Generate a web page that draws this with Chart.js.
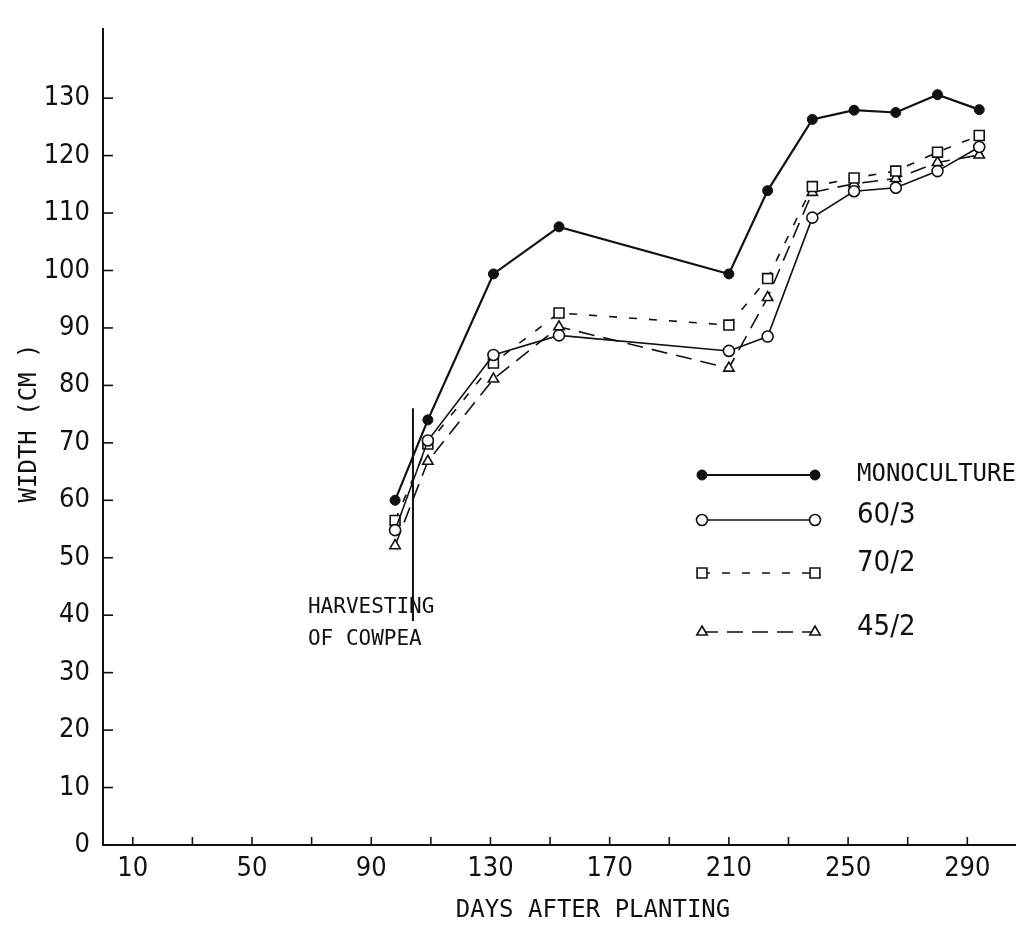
<!DOCTYPE html>
<html>
<head>
<meta charset="utf-8">
<script src="https://cdn.jsdelivr.net/npm/chart.js@4.4.1/dist/chart.umd.min.js"></script>
<style>
  html, body { margin: 0; padding: 0; background: #fff; }
  #wrap { width: 1027px; height: 928px; }
</style>
</head>
<body>
<div id="wrap"><canvas id="c" width="1027" height="928"></canvas></div>
<script>
// ---- data ----
const days = [98, 109, 131, 153, 210, 223, 238, 252, 266, 280, 294];
const monoculture = [60.0, 74.0, 99.4, 107.6, 99.4, 113.9, 126.3, 127.9, 127.5, 130.6, 128.0];
const s60_3 = [54.8, 70.4, 85.3, 88.7, 86.0, 88.5, 109.2, 113.8, 114.4, 117.3, 121.5];
const s70_2 = [56.5, 69.8, 83.9, 92.6, 90.5, 98.6, 114.6, 116.1, 117.3, 120.6, 123.5];
const s45_2 = [52.1, 66.8, 81.1, 90.2, 83.0, 95.3, 113.6, 115.1, 116.0, 118.8, 120.1];
const harvestDay = [104, 104];
const harvestMark = [39, 76];
const seriesNames = ['MONOCULTURE', '60/3', '70/2', '45/2'];
const xTicks = [10, 30, 50, 70, 90, 110, 130, 150, 170, 190, 210, 230, 250, 270, 290];
const xTickLabels = [10, 50, 90, 130, 170, 210, 250, 290];
const yTicks = [0, 10, 20, 30, 40, 50, 60, 70, 80, 90, 100, 110, 120, 130];
const annotationLines = ['HARVESTING', 'OF COWPEA'];
const xTitle = 'DAYS AFTER PLANTING';
const yTitle = 'WIDTH (CM )';

const INK = '#111';
const MONO = "'DejaVu Sans Mono', 'Liberation Mono', monospace";
const NARROW = "'Liberation Sans Narrow', 'DejaVu Sans Condensed', sans-serif";

const pts = arr => days.map((d, i) => ({x: d, y: arr[i]}));

const datasets = [
  { label: seriesNames[0], data: pts(monoculture), borderColor: INK, backgroundColor: INK,
    borderWidth: 2.2, pointStyle: 'circle', pointRadius: 5, pointBorderWidth: 1,
    pointBackgroundColor: INK, pointBorderColor: INK },
  { label: seriesNames[1], data: pts(s60_3), borderColor: INK, backgroundColor: '#fff',
    borderWidth: 1.6, pointStyle: 'circle', pointRadius: 5.5, pointBorderWidth: 1.6,
    pointBackgroundColor: '#fff', pointBorderColor: INK },
  { label: seriesNames[2], data: pts(s70_2), borderColor: INK, backgroundColor: '#fff',
    borderWidth: 1.6, borderDash: [8, 12], pointStyle: 'rect', pointRadius: 7, pointBorderWidth: 1.6,
    pointBackgroundColor: '#fff', pointBorderColor: INK },
  { label: seriesNames[3], data: pts(s45_2), borderColor: INK, backgroundColor: '#fff',
    borderWidth: 1.6, borderDash: [16, 9], pointStyle: 'triangle', pointRadius: 6, pointBorderWidth: 1.6,
    pointBackgroundColor: '#fff', pointBorderColor: INK },
  { label: 'harvest', data: harvestDay.map((d, i) => ({x: d, y: harvestMark[i]})),
    borderColor: INK, borderWidth: 2, pointRadius: 0 }
];

const decor = {
  id: 'decor',
  afterDraw(chart) {
    const ctx = chart.ctx;
    const xs = chart.scales.x, ys = chart.scales.y;
    const area = chart.chartArea;
    ctx.save();
    ctx.strokeStyle = INK;
    ctx.lineWidth = 1.6;
    // inward tick marks
    xs.ticks.forEach(t => {
      const px = xs.getPixelForValue(t.value);
      ctx.beginPath(); ctx.moveTo(px, area.bottom); ctx.lineTo(px, area.bottom - 8); ctx.stroke();
    });
    ys.ticks.forEach(t => {
      const py = ys.getPixelForValue(t.value);
      ctx.beginPath(); ctx.moveTo(area.left, py); ctx.lineTo(area.left + 10, py); ctx.stroke();
    });
    ctx.fillStyle = INK;
    // axis titles
    ctx.font = '24px ' + MONO;
    ctx.textAlign = 'center';
    ctx.textBaseline = 'middle';
    ctx.fillText(xTitle, 593, 911);
    ctx.save();
    ctx.translate(30, 423);
    ctx.rotate(-Math.PI / 2);
    ctx.fillText(yTitle, 0, 0);
    ctx.restore();

    // annotation text
    ctx.font = '21px ' + MONO;
    ctx.textAlign = 'left';
    const ax = xs.getPixelForValue(harvestDay[0]) - 105;
    ctx.fillText(annotationLines[0], ax, 608);
    ctx.fillText(annotationLines[1], ax, 640);

    // legend
    const rows = [475, 520, 573, 632];
    const textY = [475, 515, 563, 627];
    const x0 = 702, x1 = 815;
    chart.data.datasets.slice(0, 4).forEach((ds, i) => {
      const y = rows[i];
      ctx.save();
      ctx.lineWidth = ds.borderWidth;
      ctx.setLineDash(ds.borderDash || []);
      ctx.beginPath(); ctx.moveTo(x0, y); ctx.lineTo(x1, y); ctx.stroke();
      ctx.restore();
      [x0, x1].forEach(px => {
        ctx.save();
        ctx.fillStyle = ds.pointBackgroundColor;
        ctx.strokeStyle = ds.pointBorderColor;
        ctx.lineWidth = ds.pointBorderWidth;
        Chart.helpers.drawPoint(ctx, {pointStyle: ds.pointStyle, radius: ds.pointRadius, borderWidth: ds.pointBorderWidth, rotation: 0}, px, y);
        ctx.restore();
      });
      ctx.fillStyle = INK;
      ctx.textBaseline = 'middle';
      if (i === 0) { ctx.font = '24px ' + MONO; }
      else { ctx.font = '29px ' + NARROW; }
      ctx.fillText(ds.label, 857, textY[i]);
    });
    ctx.restore();
  }
};

new Chart(document.getElementById('c'), {
  type: 'line',
  data: { datasets },
  plugins: [decor],
  options: {
    responsive: false,
    animation: false,
    devicePixelRatio: 1,
    layout: { padding: { top: 7, right: 12, left: 0, bottom: 0 } },
    plugins: { legend: { display: false }, tooltip: { enabled: false } },
    scales: {
      x: {
        type: 'linear', min: 0, max: 306,
        afterBuildTicks: s => { s.ticks = xTicks.map(v => ({ value: v })); },
        afterFit: s => { s.height = 83; },
        ticks: {
          autoSkip: false, maxRotation: 0, padding: 8, color: INK,
          font: { family: NARROW, size: 27 },
          callback: v => xTickLabels.includes(v) ? String(v) : ''
        },
        grid: { display: true, drawOnChartArea: false, drawTicks: false },
        border: { display: true, color: INK, width: 2 },
        title: { display: false }
      },
      y: {
        type: 'linear', min: 0, max: 142,
        afterBuildTicks: s => { s.ticks = yTicks.map(v => ({ value: v })); },
        afterFit: s => { s.width = 103; },
        ticks: {
          autoSkip: false, padding: 13, color: INK,
          font: { family: NARROW, size: 27 }
        },
        grid: { display: true, drawOnChartArea: false, drawTicks: false },
        border: { display: true, color: INK, width: 2 },
        title: { display: false }
      }
    }
  }
});
</script>
</body>
</html>
